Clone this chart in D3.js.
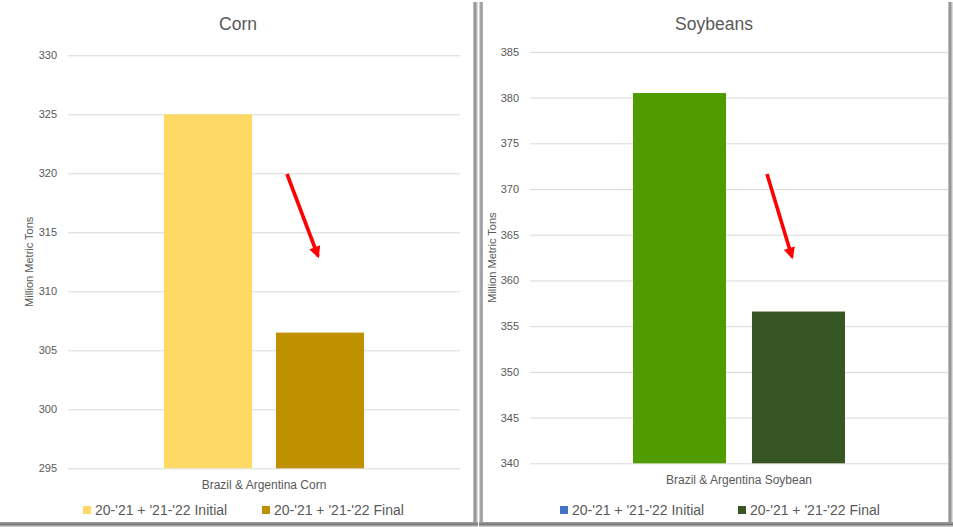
<!DOCTYPE html>
<html>
<head>
<meta charset="utf-8">
<script src="https://cdn.jsdelivr.net/npm/d3@7/dist/d3.min.js"></script>
<style>
  html, body { margin: 0; padding: 0; background: #ffffff; }
  svg { display: block; }
  text { font-family: "Liberation Sans", Arial, sans-serif; }
</style>
</head>
<body>
<svg id="chart" width="953" height="527"></svg>
<script>
// ---- Data ----
const seriesNames = ["20-'21 + '21-'22 Initial", "20-'21 + '21-'22 Final"];

const cornCategory = ["Brazil & Argentina Corn"];
const cornValues = [325.0, 306.5];
const cornTicks = [295, 300, 305, 310, 315, 320, 325, 330];

const soyCategory = ["Brazil & Argentina Soybean"];
const soyValues = [380.5, 356.6];
const soyTicks = [340, 345, 350, 355, 360, 365, 370, 375, 380, 385];

const axisTitle = "Million Metric Tons";

// ---- Drawing ----
const svg = d3.select("#chart");
const defs = svg.append("defs");

function grad(id, x1, y1, x2, y2, stops) {
  const g = defs.append("linearGradient").attr("id", id)
    .attr("x1", x1).attr("y1", y1).attr("x2", x2).attr("y2", y2);
  stops.forEach(s => g.append("stop").attr("offset", s[0]).attr("stop-color", s[1]));
}
grad("shR", "0", "0", "1", "0", [[0, "#d0d0d0"], [0.4, "#858585"], [1, "#ececec"]]);
grad("shL", "0", "0", "1", "0", [[0, "#e4e4e4"], [0.5, "#949494"], [1, "#bcbcbc"]]);
grad("shB", "0", "0", "0", "1", [[0, "#a0a0a0"], [0.5, "#7a7a7a"], [1, "#e0e0e0"]]);

// panel frames / shadows
svg.append("rect").attr("x", 0).attr("y", 0).attr("width", 953).attr("height", 527).attr("fill", "#ffffff");
svg.append("rect").attr("x", 473).attr("y", 2).attr("width", 5).attr("height", 525).attr("fill", "url(#shR)");
svg.append("rect").attr("x", 479).attr("y", 2).attr("width", 4).attr("height", 525).attr("fill", "url(#shL)");
svg.append("rect").attr("x", 948).attr("y", 2).attr("width", 5).attr("height", 525).attr("fill", "url(#shR)");
svg.append("rect").attr("x", 0).attr("y", 522).attr("width", 478).attr("height", 5).attr("fill", "url(#shB)");
svg.append("rect").attr("x", 479).attr("y", 522).attr("width", 474).attr("height", 5).attr("fill", "url(#shB)");

// arrow marker
defs.append("marker").attr("id", "arrowHead")
  .attr("viewBox", "0 0 10 10").attr("refX", 8).attr("refY", 5)
  .attr("markerWidth", 3.6).attr("markerHeight", 3.2).attr("orient", "auto")
  .attr("markerUnits", "strokeWidth")
  .append("path").attr("d", "M0,0 L10,5 L0,10 Z").attr("fill", "#ff0000");

function drawPanel(cfg) {
  const g = svg.append("g");
  const y = d3.scaleLinear().domain(cfg.domain).range([cfg.bottom, cfg.top]);
  const x0 = d3.scaleBand().domain(cfg.category).range([cfg.left, cfg.right])
    .paddingOuter(cfg.outerPad);
  const x1 = d3.scaleBand().domain(seriesNames).range([0, x0.bandwidth()])
    .paddingInner(cfg.innerPad);

  // title
  g.append("text").attr("x", cfg.titleX).attr("y", 30)
    .attr("text-anchor", "middle").attr("font-size", 17.5).attr("fill", "#595959")
    .text(cfg.title);

  // grid + ticks
  const axis = d3.axisLeft(y).tickValues(cfg.ticks)
    .tickSize(-(cfg.right - cfg.left)).tickPadding(11).tickFormat(d3.format("d"));
  const ag = g.append("g").attr("transform", `translate(${cfg.left},0)`).call(axis);
  ag.select(".domain").remove();
  ag.attr("color", "#595959");
  ag.selectAll(".tick line").attr("stroke", "#d9d9d9").attr("stroke-width", 1);
  ag.selectAll(".tick text").attr("fill", "#595959").attr("font-size", 11)
    .attr("font-family", "Liberation Sans, Arial, sans-serif");

  // bars
  g.append("g").selectAll("rect")
    .data(cfg.values.map((v, i) => ({ s: seriesNames[i], v: v, c: cfg.colors[i] })))
    .join("rect")
    .attr("x", d => x0(cfg.category[0]) + x1(d.s))
    .attr("width", x1.bandwidth())
    .attr("y", d => y(d.v))
    .attr("height", d => y(cfg.domain[0]) - y(d.v))
    .attr("fill", d => d.c);

  // category label
  g.append("text")
    .attr("x", x0(cfg.category[0]) + x0.bandwidth() / 2)
    .attr("y", cfg.bottom + 21)
    .attr("text-anchor", "middle").attr("font-size", 12).attr("fill", "#595959")
    .text(cfg.category[0]);

  // axis title
  g.append("text")
    .attr("transform", `translate(${cfg.axisTitleX},${(cfg.top + cfg.bottom) / 2}) rotate(-90)`)
    .attr("text-anchor", "middle").attr("font-size", 11).attr("fill", "#595959")
    .text(axisTitle);

  // legend
  const lg = g.append("g");
  seriesNames.forEach((s, i) => {
    const lx = cfg.legendX[i];
    lg.append("rect").attr("x", lx).attr("y", 506).attr("width", 8).attr("height", 8)
      .attr("fill", cfg.legendColors[i]);
    lg.append("text").attr("x", lx + 12).attr("y", 515).attr("font-size", 14)
      .attr("fill", "#595959").text(s);
  });

  // annotation arrow (between the two bars, pointing down)
  const a = cfg.arrow;
  g.append("line")
    .attr("x1", a[0]).attr("y1", a[1]).attr("x2", a[2]).attr("y2", a[3])
    .attr("stroke", "#ff0000").attr("stroke-width", 3.6)
    .attr("marker-end", "url(#arrowHead)");
}

drawPanel({
  title: "Corn", titleX: 238,
  category: cornCategory, values: cornValues, ticks: cornTicks,
  domain: [295, 330], top: 55.3, bottom: 468.3, left: 68, right: 460,
  outerPad: 0.48, innerPad: 0.214,
  colors: ["#ffd966", "#bf9000"], legendColors: ["#ffd966", "#bf9000"],
  axisTitleX: 33, legendX: [83, 262],
  arrow: [287, 174, 318, 256]
});

drawPanel({
  title: "Soybeans", titleX: 714,
  category: soyCategory, values: soyValues, ticks: soyTicks,
  domain: [340, 385], top: 51.9, bottom: 463.3, left: 530, right: 948,
  outerPad: 0.486, innerPad: 0.218,
  colors: ["#4f9b00", "#375623"], legendColors: ["#4472c4", "#375623"],
  axisTitleX: 496, legendX: [560, 738],
  arrow: [767, 174, 792, 257]
});
</script>
</body>
</html>
